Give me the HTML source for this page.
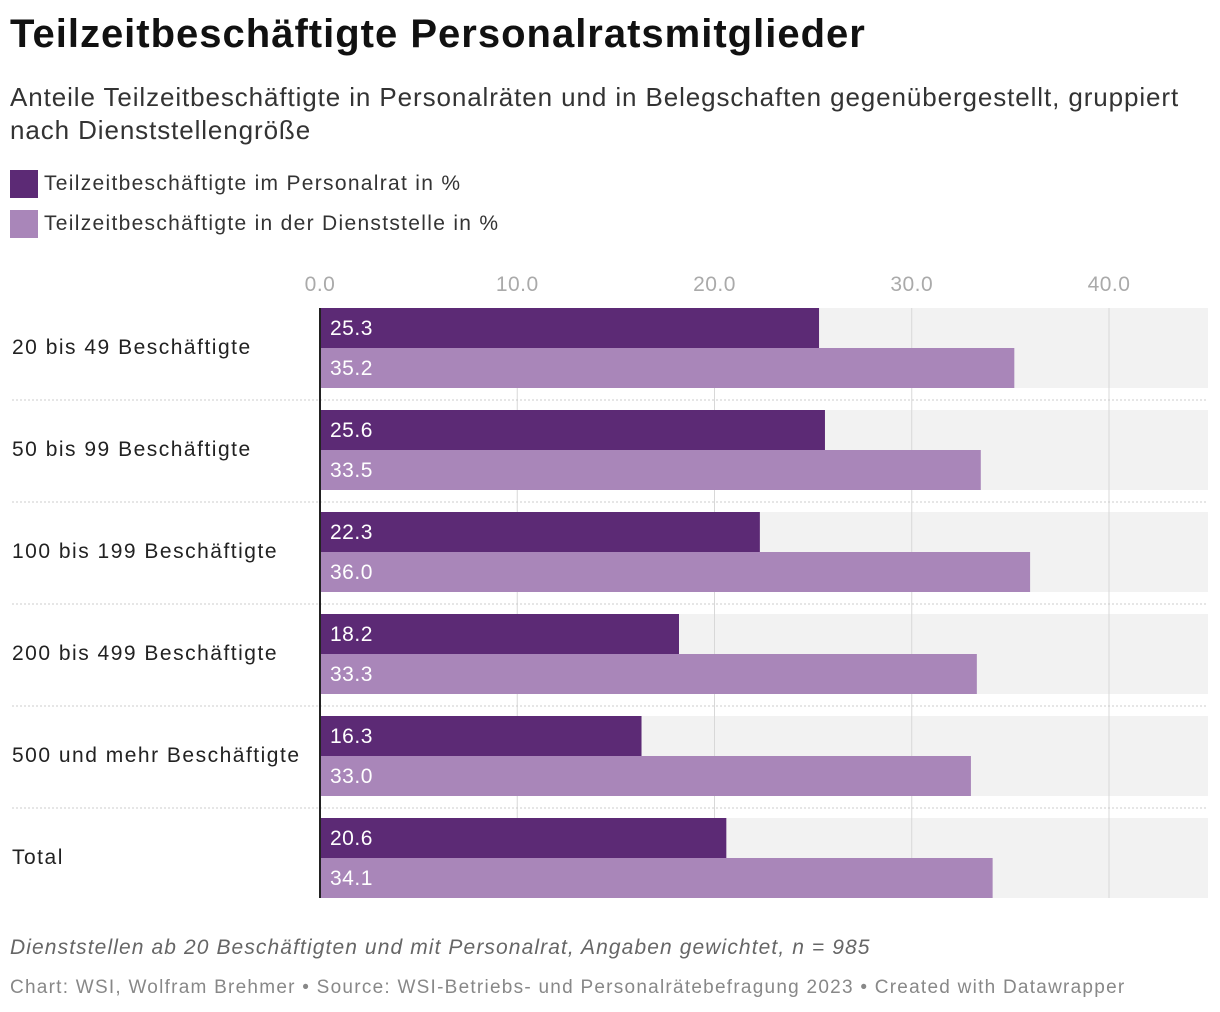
<!DOCTYPE html>
<html><head><meta charset="utf-8"><style>
body{margin:0;width:1220px;height:1012px;background:#fff;font-family:"Liberation Sans",sans-serif;position:relative;overflow:hidden;color:#222}
.a{position:absolute;white-space:nowrap}
</style></head><body>
<div class="a" style="left:10px;top:12px;font-size:40px;font-weight:bold;color:#111;letter-spacing:1px">Teilzeitbeschäftigte Personalratsmitglieder</div>
<div class="a" style="left:10px;top:81px;font-size:26px;line-height:33px;color:#333;letter-spacing:0.9px">Anteile Teilzeitbeschäftigte in Personalräten und in Belegschaften gegenübergestellt, gruppiert<br>nach Dienststellengröße</div>
<div class="a" style="left:10px;top:170px;font-size:21px;line-height:28px;color:#333;letter-spacing:1.3px"><span style="display:inline-block;width:28px;height:28px;background:#5c2a75;vertical-align:top;margin-right:6px"></span>Teilzeitbeschäftigte im Personalrat in %</div>
<div class="a" style="left:10px;top:210px;font-size:21px;line-height:28px;color:#333;letter-spacing:1.3px"><span style="display:inline-block;width:28px;height:28px;background:#a986b9;vertical-align:top;margin-right:6px"></span>Teilzeitbeschäftigte in der Dienststelle in %</div>
<svg class="a" style="left:0;top:0" width="1220" height="1012" id="chart"></svg>
<div class="a" style="left:10px;top:936px;font-size:21px;font-style:italic;color:#666;letter-spacing:1.1px">Dienststellen ab 20 Beschäftigten und mit Personalrat, Angaben gewichtet, n = 985</div>
<div class="a" style="left:10px;top:977px;font-size:19px;color:#888;letter-spacing:1.25px">Chart: WSI, Wolfram Brehmer • Source: WSI-Betriebs- und Personalrätebefragung 2023 • Created with Datawrapper</div>
<script>
const categories=["20 bis 49 Beschäftigte","50 bis 99 Beschäftigte","100 bis 199 Beschäftigte","200 bis 499 Beschäftigte","500 und mehr Beschäftigte","Total"];
const personalrat=[25.3,25.6,22.3,18.2,16.3,20.6];
const dienststelle=[35.2,33.5,36.0,33.3,33.0,34.1];
const ticks=[0,10,20,30,40];
const svg=document.getElementById('chart');
const NS='http://www.w3.org/2000/svg';
const x=v=>320+v*19.725;
const gy=i=>308+i*102;
function mk(t,a,p){const e=document.createElementNS(NS,t);for(const k in a)e.setAttribute(k,a[k]);(p||svg).appendChild(e);return e;}
categories.forEach((c,i)=>{
  const bg=mk('rect',{x:320,y:gy(i),width:888,height:80,fill:'#f2f2f2'});
  
  
});
ticks.forEach(t=>{
  if(t>0){const l=mk('line',{x1:x(t),x2:x(t),y1:308,y2:898,stroke:'#d8d8d8','stroke-width':1});
  
  }
  const tx=mk('text',{x:x(t),y:291,'text-anchor':'middle','font-size':21,fill:'#aaa','letter-spacing':0.5});
  tx.textContent=t.toFixed(1);
  
  
});
categories.forEach((c,i)=>{
  const y=gy(i);
  if(i>0){const s=mk('line',{x1:12,x2:1208,y1:y-10,y2:y-10,stroke:'#ccc','stroke-dasharray':'2,2'});
  
  }
  const lb=mk('text',{x:12,y:y+46,'font-size':21,fill:'#222','letter-spacing':1.5});lb.textContent=c;
  
  
  [[personalrat,'#5c2a75',0],[dienststelle,'#a986b9',40]].forEach(([arr,col,off])=>{
    const r=mk('rect',{x:320,y:y+off,width:x(arr[i])-320,height:40,fill:col});
    
    
    const v=mk('text',{x:330,y:y+off+27,'font-size':21,fill:'#fff','letter-spacing':0.5});v.textContent=arr[i].toFixed(1);
    
    
  });
});
const ax=mk('line',{x1:320,x2:320,y1:308,y2:898,stroke:'#222','stroke-width':2});


</script>
</body></html>
